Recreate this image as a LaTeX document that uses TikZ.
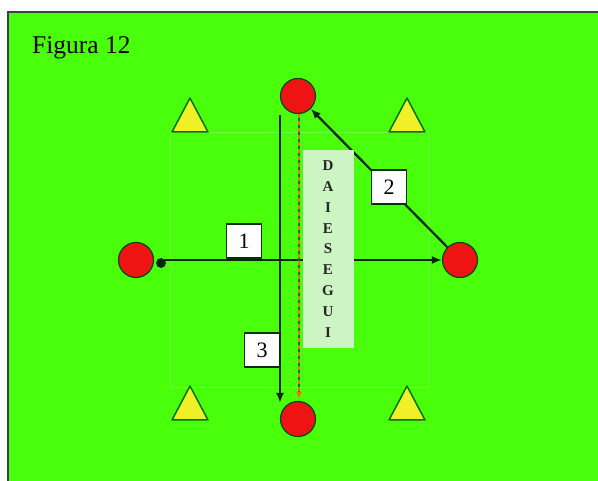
\documentclass[tikz,border=0pt]{standalone}
\usepackage{fontspec}
\setmainfont{Liberation Serif}
\usetikzlibrary{positioning,arrows.meta}
\definecolor{campo}{RGB}{74,255,12}
\definecolor{bordo}{RGB}{110,255,60}
\definecolor{cono}{RGB}{240,240,40}
\definecolor{birillo}{RGB}{238,20,20}
\definecolor{fascia}{RGB}{205,245,195}
\definecolor{tratto}{RGB}{230,120,10}

\begin{document}
\begin{tikzpicture}[x=1pt,y=-1pt,
  player/.style={draw=black!70!green,circle,fill=birillo,minimum size=35pt,inner sep=0pt,line width=1.2pt},
  num/.style={draw=black!80!green,fill=white,minimum width=35pt,minimum height=34pt,inner sep=0pt,font=\fontsize{22}{22}\selectfont,line width=1.2pt},
  pass/.style={-{Latex[length=10pt,width=8pt]},line width=2.2pt,black!85!green}]
\useasboundingbox (0,0) rectangle (598,481);
\fill[white] (0,0) rectangle (598,481);
\fill[campo] (8,12) rectangle (598,481);
\draw[black!75,line width=1.2pt] (8,481) -- (8,12) -- (598,12);
\node[anchor=base west,inner sep=0pt,font=\fontsize{25.5}{25}\selectfont] (title) at (32,54) {Figura 12};
% field
\draw[bordo,line width=.8pt] (170,132) rectangle (428,387);
\foreach \x/\y in {190/98,407/98,190/386,407/386}
  \draw[fill=cono,draw=black!55!green,line width=1.5pt,line join=round] (\x,\y) -- (\x+18,\y+34) -- (\x-18,\y+34) -- cycle;
% players
\node[player] (n) at (298,96) {};
\node[player] (s) at (298,419) {};
\node[player] (w) at (136,260) {};
\node[player] (e) at (460,260) {};
\node[circle,fill=black!85!green,minimum size=10pt,inner sep=0pt] (ball) at (161,263) {};
% passes
\draw[pass] (ball.north east |- e.west) -- (e);
\draw[pass] (280,115) -- (280,403);
\draw[pass] (e) -- (n);
\draw[black!55!green,line width=1.8pt] (299,114) -- (299,392);
\draw[tratto,dash pattern=on 4pt off 3pt,line width=1.8pt,-{Latex[length=7pt,width=6pt]}] (299,114) -- (299,399);
\node[fill=fascia,minimum width=51pt,minimum height=198pt,inner sep=0pt] (box) at (328,249) {};
\node[font=\bfseries\fontsize{15}{20.8}\selectfont,align=center,text=black!85] at (box) {D\\A\\I\\E\\S\\E\\G\\U\\I};
\node[num] (one) at (244,241) {1};
\node[num] (two) at (389,187) {2};
\node[num] (three) at (262,350) {3};
\end{tikzpicture}
\end{document}
